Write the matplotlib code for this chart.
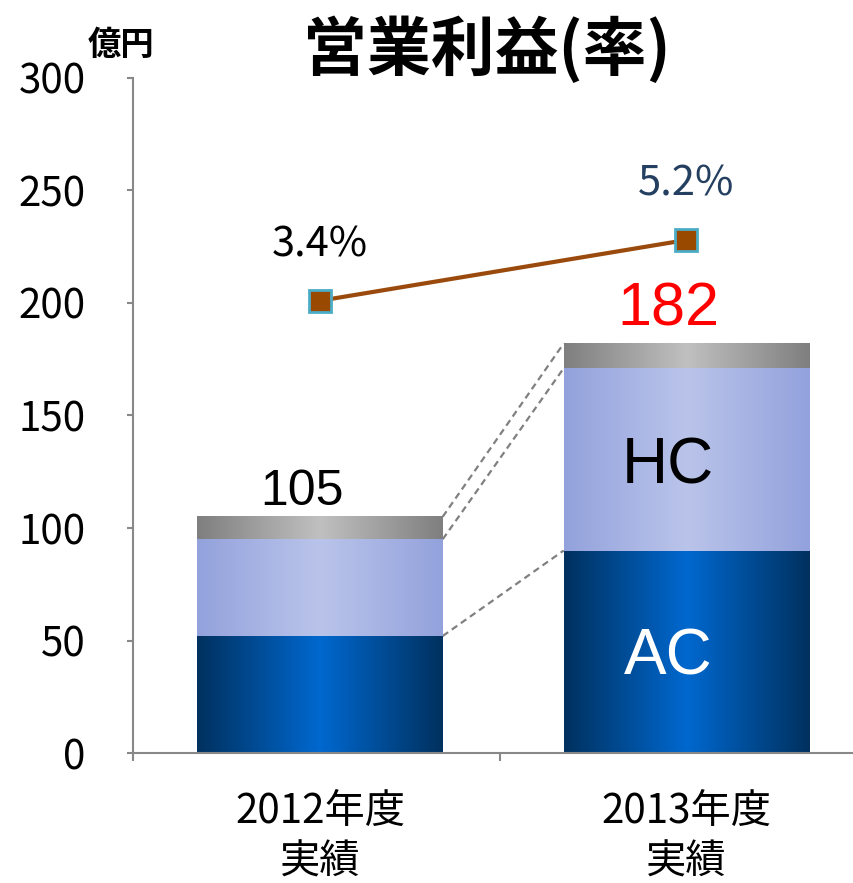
import matplotlib.pyplot as plt
import numpy as np
from matplotlib.colors import to_rgb

years = ['2012年度\n実績', '2013年度\n実績']
ac = [52, 90]
hc = [43, 81]
other = [10, 11]
totals = ['105', '182']
rates = [3.4, 5.2]
rate_labels = ['3.4%', '5.2%']

plt.rcParams['font.family'] = ['Noto Sans CJK JP', 'DejaVu Sans']

# (values, edge colour, centre colour)
layers = [(ac, '#00315f', '#0068cf'),
          (hc, '#93a2dc', '#bac4ea'),
          (other, '#7f7f7f', '#c0c0c0')]

fig = plt.figure(figsize=(8.54, 8.83), dpi=100)
ax = fig.add_axes([0.1557, 0.1472, 0.8443, 0.7645])
x = np.arange(len(years))
w = 0.67
bottom = np.zeros(len(years))
tops = []
t = 1 - np.abs(np.linspace(-1, 1, 256))
for vals, c_edge, c_mid in layers:
    bars = ax.bar(x, vals, w, bottom=bottom, color='none', zorder=2)
    e, m = np.array(to_rgb(c_edge)), np.array(to_rgb(c_mid))
    img = (e + (m - e) * t[:, None])[None, :, :]
    for p in bars:
        ax.imshow(img, extent=[p.get_x(), p.get_x() + p.get_width(),
                               p.get_y(), p.get_y() + p.get_height()],
                  aspect='auto', interpolation='bilinear', zorder=2)
    bottom = bottom + np.array(vals)
    tops.append(bottom.copy())

# dashed connectors between the bars
for top in tops:
    ax.plot([x[0] + w / 2, x[1] - w / 2], top, ls=(0, (3, 2)),
            color='#808080', lw=1.6, zorder=1)

# rate line on a hidden secondary axis
ax2 = ax.twinx()
ax2.plot(x, rates, color='#9a4a0c', lw=3, marker='s', markersize=16,
         markerfacecolor='#9a4a00', markeredgecolor='#4bacc6', markeredgewidth=2)
colors = ['black', '#243f60']
for xi, r, lab, c in zip(x, rates, rate_labels, colors):
    ax2.text(xi, r + 1.65, lab, ha='center', va='center', fontsize=30, color=c)
ax2.set_ylim(-10, 10)
ax2.axis('off')

ax.set_xlim(-0.51, 1.457)
ax2.set_xlim(-0.51, 1.457)
ax.set_ylim(0, 300)
ax.set_yticks(range(0, 301, 50))
ax.tick_params(axis='y', labelsize=29, length=4, width=1.5, color='#888888', pad=30)
ax.set_xticks(x)
ax.set_xticklabels(years, fontsize=29, linespacing=1.3)
ax.tick_params(axis='x', length=0, pad=27)
ax.set_xticks([-0.51, 0.49], minor=True)
ax.tick_params(axis='x', which='minor', length=6, width=1.5, color='#888888')
for s in ['top', 'right']:
    ax.spines[s].set_visible(False)
for s in ['left', 'bottom']:
    ax.spines[s].set_color('#888888')
    ax.spines[s].set_linewidth(1.5)
ax.spines['bottom'].set_zorder(3)

# totals and segment labels (sit a little left of the bar centre)
dx = -0.05
ax.text(x[0] + dx, tops[-1][0] + 1, totals[0], ha='center', va='bottom',
        fontsize=36, family='Liberation Sans')
ax.text(x[1] + dx, tops[-1][1] + 2, totals[1], ha='center', va='bottom',
        fontsize=44, color='#ff0000', family='Liberation Sans')
ax.text(x[1] + dx, tops[0][1] + hc[1] / 2 - 3, 'HC', ha='center', va='center',
        fontsize=46, family='Liberation Sans', zorder=4)
ax.text(x[1] + dx, ac[1] / 2 - 2.5, 'AC', ha='center', va='center', fontsize=46,
        color='white', family='Liberation Sans', zorder=4)

fig.text(0.57, 0.943, '営業利益(率)', ha='center', va='center', fontsize=46,
         fontweight='bold')
fig.text(0.142, 0.948, '億円', ha='center', va='center', fontsize=24,
         fontweight='bold')

fig.savefig('out.png', dpi=100)
